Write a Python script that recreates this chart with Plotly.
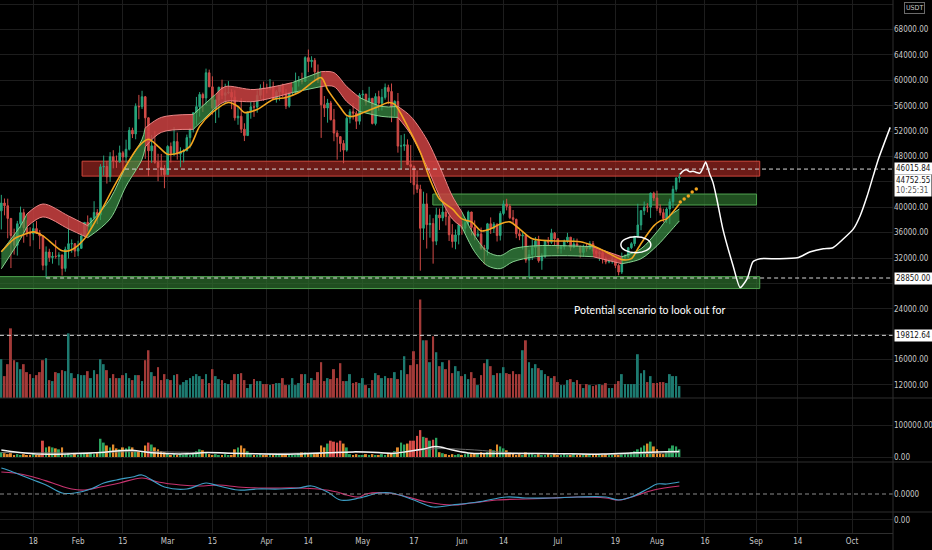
"""
plot.py
=======
BTC/USDT daily (Jan-Aug 2021) with trend ribbon, fast MA, supply/demand
zones, volume, two lower panes and a hand-drawn projection for Aug-Oct.
"""

import pandas as pd
import plotly.graph_objects as go


# ── Candles: daily 2021-01-08 → 2021-08-08 ─────────────────────
FIRST_DAY = "2021-01-08"
FIRST_OPEN = 39432

closes = [
    40670, 40240, 38240, 35545, 34011, 37390, 39150, 36770, 36006, 35828, 36631, 35891,
    35468, 30850, 32945, 32078, 32259, 32254, 32467, 30366, 33364, 34252, 34262, 33092,
    33526, 35466, 37618, 36936, 38290, 39186, 38795, 46374, 46420, 44807, 47969, 47287,
    47153, 48577, 47911, 49133, 52119, 51552, 55906, 55841, 57408, 54088, 48891, 49676,
    47073, 46277, 46106, 45135,
    49587, 48440, 50349, 48374, 48751, 48882, 50971, 52375, 54884, 55851, 57773, 57221,
    61188, 58968, 55605, 56900, 58912, 57648, 58030, 58102, 57351, 54083, 54340, 52303,
    51293, 55025, 55817, 55777, 57635, 58746, 58740,
    58720, 58950, 57051, 58202, 59123, 58020, 55947, 58048, 58102, 59774, 59964, 59835,
    63576, 62959, 63159, 61334, 60006, 56150, 55633, 56425, 53787, 51690, 51125, 50047,
    49004, 54021, 55034, 54824, 53555, 57694,
    57800, 56578, 57169, 53200, 57436, 56393, 57314, 58862, 58240, 55816, 56670, 49631,
    49670, 49841, 46708, 46426, 43538, 42849, 36690, 40526, 37252, 37449, 34655, 38796,
    38324, 39241, 38529, 35663, 34605, 35641, 37254,
    36693, 37568, 39246, 36829, 35513, 35796, 33552, 33380, 37389, 36675, 37331, 35546,
    39020, 40516, 40144, 38349, 38092, 35820, 35483, 35600, 31676, 32505, 33676, 34663,
    31584, 32283, 34700, 34494, 35911, 35045,
    33504, 33787, 34668, 35287, 33691, 34220, 33862, 32875, 33815, 33502, 34258, 33086,
    32729, 32820, 31880, 31383, 31520, 31778, 30839, 29790, 32144, 32287, 33634, 34258,
    35425, 37208, 39457, 40019, 40016, 42206, 41461,
    39845, 39147, 38207, 39723, 40862, 42836, 44614, 44752.55,
]

highs = [
    41950, 41380, 41350, 38264, 36628, 37850, 40100, 39747, 37950, 36852, 37469, 37850,
    36415, 35600, 33826, 33456, 32944, 34802, 32921, 32557, 33783, 38531, 34933, 34342,
    34717, 35984, 37662, 38708, 38310, 40955, 39700, 46794, 48142, 47310, 48678, 48985,
    48150, 49707, 48876, 50641, 52618, 52530, 56368, 57700, 58352, 57533, 54183, 51374,
    52041, 48424, 48394, 46640,
    49790, 50200, 52640, 51773, 49448, 49200, 51450, 52402, 54895, 57387, 58150, 58058,
    61844, 61683, 60633, 56938, 58978, 60100, 59468, 59880, 58594, 58430, 55830, 57200,
    53236, 55073, 56700, 56568, 58400, 59368, 59800,
    59461, 60200, 59791, 58500, 59250, 59474, 58650, 58153, 58894, 61220, 60670, 61200,
    63800, 64854, 63800, 63520, 62500, 60499, 57526, 57076, 56757, 55500, 52130, 51166,
    50567, 54356, 55460, 56428, 55200, 58000,
    58458, 57911, 58981, 57200, 57963, 58360, 58650, 59500, 59300, 59500, 56862, 58000,
    51367, 51570, 50700, 49800, 46595, 45800, 43546, 42451, 42200, 38829, 38270, 39920,
    39791, 40841, 40411, 38877, 37338, 36488, 37499,
    37894, 38225, 39476, 39289, 37925, 36480, 36800, 34068, 37534, 38400, 37680, 37448,
    39380, 41064, 41330, 40527, 39560, 38202, 36457, 36137, 35750, 33298, 34881, 35298,
    35500, 32730, 34749, 35297, 36600, 36100,
    35057, 33977, 34909, 35967, 35293, 35118, 35059, 33929, 34100, 34262, 34666, 34679,
    33340, 33114, 33185, 32249, 31935, 32435, 31899, 31063, 32858, 32591, 33650, 34500,
    35398, 40550, 39542, 40900, 40640, 42316, 42448,
    42599, 40459, 39780, 39969, 41350, 43392, 44700, 45310,
]

lows = [
    36500, 38720, 35111, 30420, 32531, 32380, 36701, 34408, 35357, 33850, 34800, 35844,
    33400, 30071, 28850, 31390, 31106, 31910, 30837, 29241, 29842, 31915, 32825, 32171,
    32296, 33418, 35362, 36161, 36570, 38215, 37351, 37988, 45000, 43727, 43994, 46125,
    46202, 47014, 45000, 47000, 48947, 50901, 50710, 53863, 55477, 47622, 44892, 47004,
    46855, 44106, 45000, 43000,
    45115, 47047, 48100, 47500, 46300, 47070, 48882, 49274, 51789, 53005, 54272, 55013,
    56078, 58966, 54600, 53271, 54123, 57023, 56271, 57820, 55450, 53650, 53000, 51700,
    50427, 51283, 53950, 54242, 54900, 57012, 56769,
    57935, 58428, 56962, 56478, 56800, 57333, 55473, 55700, 57654, 57871, 59018, 59370,
    59791, 61301, 62020, 60000, 59580, 50931, 54221, 53329, 53695, 50400, 47500, 48733,
    46930, 48753, 53222, 53813, 52330, 53013,
    57000, 56035, 56435, 53046, 52900, 55200, 55241, 56957, 56235, 53400, 54370, 48600,
    46000, 48893, 46650, 43825, 42001, 42250, 30000, 34850, 33488, 35200, 31111, 34031,
    36419, 37800, 37134, 34684, 33632, 33379, 34153,
    35666, 35920, 37170, 35567, 34800, 35258, 33300, 31000, 32396, 35800, 35936, 34600,
    34757, 38730, 39506, 38116, 37365, 35129, 34803, 33336, 31251, 28805, 31683, 32286,
    31275, 30151, 32000, 33862, 34225, 34017,
    32711, 32699, 33326, 34357, 33125, 33532, 33777, 32077, 32261, 33004, 33306, 32658,
    32202, 31550, 31133, 31020, 31164, 31108, 30407, 29278, 29482, 31708, 31924, 33401,
    33851, 35205, 36383, 38772, 39200, 38313, 41000,
    39422, 38690, 37642, 37508, 37332, 39853, 42446, 43900,
]

# volume, thousand BTC
volume_k = [
    39, 22, 34, 70, 38, 36, 29, 34, 26, 24, 20, 23, 26, 38, 40, 18, 17, 26, 25, 28,
    27, 65, 25, 20, 24, 23, 23, 27, 20, 28, 24, 39, 34, 28, 20, 24, 20, 20, 23, 25,
    20, 18, 23, 23, 17, 38, 48, 26, 22, 31, 18, 24, 19, 18, 23, 24, 13, 16, 18, 20,
    22, 24, 22, 19, 24, 15, 29, 22, 19, 18, 15, 14, 18, 24, 24, 25, 18, 10, 14, 19,
    17, 17, 14, 14, 13, 14, 15, 15, 20, 13, 13, 20, 13, 15, 24, 24, 15, 20, 18, 26,
    36, 17, 20, 19, 29, 20, 35, 17,
    17, 24, 15, 16, 15, 20, 13, 10, 18, 25, 23, 20, 22, 20, 20, 26, 19, 28, 42, 24,
    33, 47, 34, 99, 58, 58, 36, 62, 46, 32, 36, 29, 38, 25, 32, 27, 22, 24, 19, 26,
    20, 13, 23, 35, 39, 32, 23, 25, 25, 31, 25, 24, 27, 24, 24, 48, 58, 36, 30, 34,
    30, 28, 24, 22, 20, 22, 16, 13, 13, 18, 19, 16, 18, 14, 10, 14, 13, 12,
    13, 14, 13, 15, 10, 10, 14, 17, 24, 14, 14, 14, 14, 44, 25, 28, 16, 22, 15, 15,
    16, 16, 15, 24, 22, 22, 12,
]

# second pane histogram (thousands)
flow_k = [
    15, 12, 9, 12, 6, 9, 6, 9, 6, 6, 9, 6, 6,
    51, 30, 33, 30, 27, 24, 30, 9, 12, 6, 9, 6, 9, 12, 9, 12, 9, 12,
    57, 45, 36, 30, 39, 27, 24, 30, 27, 33, 30, 21, 18, 15,
    36, 45, 39, 30, 24, 18, 15, 12, 6, 9, 6, 9, 6, 9, 6,
    12, 18, 24, 21, 15, 9, 6, 9, 6, 6, 9, 6, 6, 24, 30, 36, 27, 18,
    9, 6, 6, 9, 6, 6, 9, 6, 6, 9, 6, 6, 9, 6, 6, 12, 15, 15, 12, 9, 9, 12,
    36, 30, 42, 51, 48, 45, 51, 42, 30,
    9, 6, 9, 6, 6, 9, 6, 9, 6, 6, 9, 6, 9, 12, 18, 30,
    45, 39, 42, 51, 51, 66, 84, 63, 60, 51, 54, 60,
    15, 12, 9, 6, 9, 6, 9, 6, 9, 12, 9, 12, 9, 15, 12,
    15, 24, 21, 39, 33, 27, 21, 15, 12, 6, 9, 6, 15, 12, 9,
    6, 9, 6, 6, 9, 6, 9, 6, 6, 9, 6, 6, 9, 6, 6, 9, 6, 6, 9, 6, 6, 6, 9, 6, 6, 9, 6, 9, 9,
    12, 15, 18, 24, 30, 36, 42, 48, 33, 24, 12, 9, 15, 27, 36, 33, 24,
]
flow_ma_dates = ["2021-01-08", "2021-01-18", "2021-01-30", "2021-02-08", "2021-02-13",
                 "2021-02-18", "2021-02-24", "2021-03-07", "2021-03-13", "2021-03-20",
                 "2021-03-29", "2021-04-10", "2021-04-20", "2021-04-28", "2021-05-06",
                 "2021-05-10", "2021-05-15", "2021-05-20", "2021-05-24", "2021-05-29",
                 "2021-06-04", "2021-06-13", "2021-06-25", "2021-07-05", "2021-07-15",
                 "2021-07-25", "2021-08-01", "2021-08-08"]
flow_ma_k = [22, 10, 10, 14, 19, 21, 13, 10, 14, 12, 10, 9, 13, 16, 14, 11, 17, 25,
             33, 22, 12, 11, 11, 10, 9, 13, 16, 17]
flow_slow_dates = ["2021-01-08", "2021-02-01", "2021-02-20", "2021-03-05", "2021-04-01",
                   "2021-04-28", "2021-05-10", "2021-05-24", "2021-06-05", "2021-06-15",
                   "2021-07-01", "2021-07-20", "2021-08-08"]
flow_slow_k = [14, 13, 17, 15, 11, 15, 13, 26, 22, 14, 11, 9, 14]

# ── Trend ribbon (upper / lower edge, +1 green, -1 red) ────────
ribbon_dates = ["2021-01-08", "2021-01-14", "2021-01-16", "2021-01-21", "2021-01-29",
                "2021-02-04", "2021-02-11", "2021-02-16", "2021-02-21", "2021-02-22",
                "2021-02-27", "2021-03-09", "2021-03-16", "2021-03-19", "2021-03-28",
                "2021-04-09", "2021-04-18", "2021-04-22", "2021-04-26", "2021-04-30",
                "2021-05-07", "2021-05-12", "2021-05-16", "2021-05-21", "2021-05-25",
                "2021-05-29", "2021-06-01", "2021-06-05", "2021-06-09", "2021-06-13",
                "2021-06-17", "2021-06-24", "2021-07-04", "2021-07-12", "2021-07-21",
                "2021-07-27", "2021-08-01", "2021-08-05", "2021-08-08"]
ribbon_top = [33000, 37063, 38945, 40513, 38631, 37100, 41297, 46471, 50705, 52500,
              54155, 54625, 57800, 59016, 58545, 59643, 61367, 61210, 59016, 57291,
              55879, 55879, 54311, 50705, 46471, 41767, 39259, 35495, 32986, 32359,
              33456, 33927, 33927, 33770, 32200, 33456, 36122, 38631, 39729]
ribbon_bot = [30300, 35024, 36906, 38474, 36592, 35200, 38161, 43335, 47569, 49500,
              51803, 52273, 55700, 56663, 56663, 58075, 59016, 59016, 56663, 55095,
              54311, 54155, 51489, 46471, 41767, 38161, 36906, 32986, 30790, 30320,
              31417, 32202, 32359, 32202, 31100, 31888, 33927, 36122, 37847]
ribbon_trend = [1, 1, -1, -1, -1, 1, 1, 1, 1, -1,
                -1, 1, -1, -1, -1, 1, -1, -1, -1, 1,
                1, -1, -1, -1, -1, -1, 1, 1, 1, 1,
                1, 1, 1, -1, 1, 1, 1, 1, 1]

# ── Fast moving average (orange) ───────────────────────────────
ma_dates = ["2021-01-08", "2021-01-12", "2021-01-14", "2021-01-18", "2021-01-21",
            "2021-01-27", "2021-01-30", "2021-02-03", "2021-02-08", "2021-02-13",
            "2021-02-20", "2021-02-23", "2021-02-26", "2021-03-01", "2021-03-05",
            "2021-03-08", "2021-03-11", "2021-03-15", "2021-03-20", "2021-03-23",
            "2021-03-25", "2021-03-29", "2021-04-03", "2021-04-07", "2021-04-11",
            "2021-04-18", "2021-04-20", "2021-04-24", "2021-04-26", "2021-04-28",
            "2021-05-02", "2021-05-06", "2021-05-09", "2021-05-11", "2021-05-15",
            "2021-05-19", "2021-05-22", "2021-05-25", "2021-05-29", "2021-06-01",
            "2021-06-04", "2021-06-07", "2021-06-10", "2021-06-13", "2021-06-16",
            "2021-06-19", "2021-06-23", "2021-06-29", "2021-07-08", "2021-07-12",
            "2021-07-16", "2021-07-21", "2021-07-24", "2021-07-26", "2021-07-28",
            "2021-07-31", "2021-08-02", "2021-08-04", "2021-08-06", "2021-08-08"]
ma_values = [32987, 35024, 35495, 36122, 35495, 33143, 33300, 35024, 39259, 43963,
             49608, 50705, 49608, 48353, 48667, 49608, 52744, 54939, 56507, 55879,
             54939, 55409, 56977, 57291, 58075, 60427, 58545, 55722, 54468, 54311,
             55095, 55879, 56507, 56193, 52744, 48667, 44433, 41297, 39729, 38161,
             37690, 36279, 36592, 37376, 37690, 36592, 35024, 34710, 34553, 33927,
             32986, 31750, 31900, 33456, 35024, 37063, 37847, 38161, 39259, 40513]
ma_proj_dates = ["2021-08-08 07:00", "2021-08-09 12:00", "2021-08-10 19:00",
                 "2021-08-12 00:00", "2021-08-13 07:00"]
ma_proj_values = [40826, 41297, 41767, 42395, 42865]

# ── Hand-drawn scenario ────────────────────────────────────────
scenario_dates = ["2021-08-08 05:00", "2021-08-09 05:00", "2021-08-10 05:00",
                  "2021-08-11 07:00", "2021-08-12 07:00", "2021-08-13 07:00",
                  "2021-08-14 10:00", "2021-08-15 05:00", "2021-08-16 05:00",
                  "2021-08-16 17:00", "2021-08-17 12:00", "2021-08-18 12:00",
                  "2021-08-19 17:00", "2021-08-21 14:00", "2021-08-24 19:00",
                  "2021-08-27 00:00", "2021-08-29 05:00", "2021-08-31 00:00",
                  "2021-09-02 07:00", "2021-09-07 14:00", "2021-09-13 22:00",
                  "2021-09-18 00:00", "2021-09-22 00:00", "2021-09-25 00:00",
                  "2021-09-28 07:00", "2021-10-01 10:00", "2021-10-03 12:00",
                  "2021-10-05 17:00", "2021-10-07 14:00", "2021-10-09 05:00",
                  "2021-10-12 22:00"]
scenario_values = [45217, 45735, 45891, 45578, 45688, 45484, 45374, 46001, 47146,
                   46518, 45217, 43916, 41297, 36592, 30790, 27341, 28752, 31417,
                   31888, 31888, 32045, 32986, 33456, 33613, 35024, 36592, 38631,
                   41767, 44903, 47569, 52587]

# ── Oscillator pane (two lines) ────────────────────────────────
osc_fast_dates = ["2021-01-08", "2021-01-10", "2021-01-14", "2021-01-18", "2021-01-22",
                  "2021-01-27", "2021-01-31", "2021-02-05", "2021-02-09", "2021-02-13",
                  "2021-02-18", "2021-02-21", "2021-02-25", "2021-02-28", "2021-03-07",
                  "2021-03-13", "2021-03-17", "2021-03-23", "2021-03-29", "2021-04-05",
                  "2021-04-11", "2021-04-15", "2021-04-20", "2021-04-24", "2021-04-30",
                  "2021-05-06", "2021-05-10", "2021-05-17", "2021-05-23", "2021-05-29",
                  "2021-06-06", "2021-06-15", "2021-06-21", "2021-06-29", "2021-07-07",
                  "2021-07-16", "2021-07-20", "2021-07-24", "2021-07-29", "2021-08-01",
                  "2021-08-04", "2021-08-08"]
osc_fast = [2.6, 2.4, 1.9, 1.4, 0.9, 0.1, 0.1, 0.5, 1.1, 1.4, 1.7, 1.9, 1.2, 0.7,
            0.5, 1.1, 0.8, 0.4, 0.5, 0.5, 0.6, 0.8, 0.2, -0.6, -0.4, 0.1, 0.1, -0.6,
            -1.3, -1.1, -0.8, -0.3, -0.4, -0.4, -0.3, -0.3, -0.6, -0.3, 0.5, 1.0, 1.0,
            1.2]
osc_slow_dates = ["2021-01-08", "2021-01-12", "2021-01-18", "2021-01-24", "2021-01-30",
                  "2021-02-03", "2021-02-08", "2021-02-14", "2021-02-21", "2021-02-26",
                  "2021-03-05", "2021-03-11", "2021-03-17", "2021-03-23", "2021-03-31",
                  "2021-04-11", "2021-04-17", "2021-04-23", "2021-04-26", "2021-04-30",
                  "2021-05-02", "2021-05-09", "2021-05-15", "2021-05-21", "2021-05-29",
                  "2021-06-04", "2021-06-12", "2021-06-21", "2021-06-29", "2021-07-07",
                  "2021-07-16", "2021-07-20", "2021-07-24", "2021-07-31", "2021-08-08"]
osc_slow = [2.2, 2.1, 1.7, 1.1, 0.5, 0.4, 0.7, 1.1, 1.6, 1.2, 0.9, 0.8, 0.9, 0.7,
            0.6, 0.6, 0.5, 0.2, -0.1, -0.3, 0.0, 0.1, -0.3, -0.8, -1.1, -0.9, -0.6,
            -0.5, -0.4, -0.3, -0.4, -0.6, -0.3, 0.4, 0.8]

# ── Levels and zones ───────────────────────────────────────────
LEVEL_TOP = 46015.84
LEVEL_LOW = 28850.00
LEVEL_VOL = 19812.64
LAST_PRICE = 44752.55
COUNTDOWN = "10:25:31"
level_prices = [LEVEL_TOP, LEVEL_LOW, LEVEL_VOL]
level_starts = ["2021-02-15 16:00", "2021-01-22", "2021-01-01"]

zone_starts = ["2021-02-02 06:00", "2021-05-22 22:00", "2021-01-01"]
zone_ends = ["2021-09-02 03:00", "2021-09-01 03:00", "2021-09-02 03:00"]
zone_tops = [47255, 42081, 29068]
zone_bottoms = [44904, 40355, 27187]
zone_kinds = ["supply", "demand", "demand"]

price_ticks = list(range(12000, 72001, 4000))
# labels hidden behind the price tags on the axis
covered_ticks = [20000, 28000, 44000]
date_ticks = ["2021-01-18", "2021-02-01", "2021-02-15", "2021-03-01", "2021-03-15",
              "2021-04-01", "2021-04-14", "2021-05-01", "2021-05-17", "2021-06-01",
              "2021-06-14", "2021-07-01", "2021-07-19", "2021-08-01", "2021-08-16",
              "2021-09-01", "2021-09-14", "2021-10-01"]
date_labels = ["18", "Feb", "15", "Mar", "15", "Apr", "14", "May", "17", "Jun",
               "14", "Jul", "19", "Aug", "16", "Sep", "14", "Oct"]

NOTE = "Potential scenario to look out for"


# ── Style ──────────────────────────────────────────────────────
BG = "#000000"
GRID = "#1d1d1d"
BORDER = "#2e2e2e"
AXIS_TXT = "#c8c8c8"
FONT = "Liberation Sans Narrow, DejaVu Sans Condensed, Arial Narrow, sans-serif"

UP = "#27a47c"
DOWN = "#d14b47"
VOL_UP = "#1d7a70"
VOL_DOWN = "#a23a38"
FLOW_UP = "#2aa35f"
FLOW_DOWN = "#e38a2c"
FLOW_BIG = "#d64b47"
MA_COLOR = "#f2a51f"
OSC_FAST = "#3d9fc6"
OSC_SLOW = "#c8336f"

RIBBON = {
    1: dict(fill="rgba(60,150,72,0.68)", edge="#86d08f"),
    -1: dict(fill="rgba(204,66,66,0.85)", edge="#ec8585"),
}
ZONE = {
    "supply": dict(fill="rgba(150,38,32,0.72)", edge="#d0473c"),
    "demand": dict(fill="rgba(44,110,44,0.72)", edge="#4fa24f"),
}

# pixel layout of the panes (from top of the plot area)
PLOT_H = 533
PANES = {"price": (0, 398), "flow": (398, 462), "osc": (462, 512), "empty": (512, 533)}
PRICE_RANGE = [9941, 72657]
X_RANGE = ["2021-01-07 14:00", "2021-10-13 19:00"]
DAY_MS = 86400000

# the page has a default 8px body margin; drop it so the chart fills the window
PAGE_FIX = "document.body.style.margin='0';document.body.style.background='#000';"


def _domain(pane):
    top, bottom = PANES[pane]
    return [(PLOT_H - bottom) / PLOT_H, (PLOT_H - top) / PLOT_H]


def _ribbon_traces():
    """Split the ribbon into single-colour runs, each a filled band."""
    traces = []
    start = 0
    n = len(ribbon_dates)
    for i in range(1, n):
        if ribbon_trend[i] != ribbon_trend[start] or i == n - 1:
            sty = RIBBON[ribbon_trend[start]]
            idx = range(start, i + 1)
            xs = [ribbon_dates[j] for j in idx]
            traces.append(go.Scatter(
                x=xs, y=[ribbon_bot[j] for j in idx], mode="lines",
                line=dict(color=sty["edge"], width=1, shape="spline", smoothing=0.9),
                hoverinfo="skip", showlegend=False,
            ))
            traces.append(go.Scatter(
                x=xs, y=[ribbon_top[j] for j in idx], mode="lines",
                line=dict(color=sty["edge"], width=1, shape="spline", smoothing=0.9),
                fill="tonexty", fillcolor=sty["fill"],
                hoverinfo="skip", showlegend=False,
            ))
            start = i
    return traces


def _tag(y, text, yshift=0, yanchor="middle"):
    return dict(
        xref="paper", x=1, xanchor="left", xshift=1,
        yref="y", y=y, yshift=yshift, yanchor=yanchor, text=text, showarrow=False,
        bgcolor="#ffffff", borderpad=1, align="left",
        font=dict(color="#151515", size=8, family=FONT),
    )


def build_figure():
    dates = pd.date_range(FIRST_DAY, periods=len(closes), freq="D")
    opens = [FIRST_OPEN] + closes[:-1]
    rising = [c >= o for o, c in zip(opens, closes)]

    traces = []

    # ── 1. Ribbon ───────────────────────────────────────────
    traces += _ribbon_traces()

    # ── 2. Candles ──────────────────────────────────────────
    traces.append(go.Candlestick(
        x=dates, open=opens, high=highs, low=lows, close=closes,
        increasing=dict(line=dict(color=UP, width=1), fillcolor=UP),
        decreasing=dict(line=dict(color=DOWN, width=1), fillcolor=DOWN),
        whiskerwidth=0, hoverinfo="skip", showlegend=False,
    ))

    # ── 3. Fast MA + projected dots ─────────────────────────
    traces.append(go.Scatter(
        x=ma_dates, y=ma_values, mode="lines",
        line=dict(color=MA_COLOR, width=1.6, shape="spline", smoothing=0.8),
        hoverinfo="skip", showlegend=False,
    ))
    traces.append(go.Scatter(
        x=ma_proj_dates, y=ma_proj_values, mode="markers",
        marker=dict(color=MA_COLOR, size=3.5),
        hoverinfo="skip", showlegend=False,
    ))

    # ── 4. Scenario path ────────────────────────────────────
    traces.append(go.Scatter(
        x=scenario_dates, y=scenario_values, mode="lines",
        line=dict(color="#ffffff", width=1.5, shape="spline", smoothing=0.6),
        hoverinfo="skip", showlegend=False,
    ))

    # ── 5. Volume (overlay in the price pane) ───────────────
    traces.append(go.Bar(
        x=dates, y=volume_k, yaxis="y5", width=0.62 * DAY_MS,
        marker=dict(color=[VOL_UP if r else VOL_DOWN for r in rising], line_width=0),
        hoverinfo="skip", showlegend=False,
    ))

    # ── 6. Flow pane ────────────────────────────────────────
    flow_colors = [
        FLOW_UP if r else (FLOW_BIG if v >= 45 else FLOW_DOWN)
        for r, v in zip(rising, flow_k)
    ]
    traces.append(go.Bar(
        x=dates, y=[v * 1000 for v in flow_k], xaxis="x2", yaxis="y2",
        width=0.62 * DAY_MS, marker=dict(color=flow_colors, line_width=0),
        hoverinfo="skip", showlegend=False,
    ))
    traces.append(go.Scatter(
        x=flow_slow_dates, y=[v * 1000 for v in flow_slow_k], xaxis="x2", yaxis="y2",
        mode="lines", line=dict(color="#6d6d6d", width=1, shape="spline"),
        hoverinfo="skip", showlegend=False,
    ))
    traces.append(go.Scatter(
        x=flow_ma_dates, y=[v * 1000 for v in flow_ma_k], xaxis="x2", yaxis="y2",
        mode="lines", line=dict(color="#f2f2f2", width=1.5, shape="spline"),
        hoverinfo="skip", showlegend=False,
    ))

    # ── 7. Oscillator pane ──────────────────────────────────
    traces.append(go.Scatter(
        x=osc_slow_dates, y=osc_slow, xaxis="x3", yaxis="y3", mode="lines",
        line=dict(color=OSC_SLOW, width=1.2, shape="spline"),
        hoverinfo="skip", showlegend=False,
    ))
    traces.append(go.Scatter(
        x=osc_fast_dates, y=osc_fast, xaxis="x3", yaxis="y3", mode="lines",
        line=dict(color=OSC_FAST, width=1.2, shape="spline"),
        hoverinfo="skip", showlegend=False,
    ))

    # ── 8. Empty bottom pane (keeps its axis alive) ─────────
    traces.append(go.Scatter(
        x=[dates[0]], y=[None], xaxis="x4", yaxis="y4", mode="lines",
        hoverinfo="skip", showlegend=False,
    ))

    # ── 9. Shapes: zones, levels, ellipse, pane borders ─────
    shapes = []
    for x0, x1, top, bot, kind in zip(zone_starts, zone_ends, zone_tops,
                                      zone_bottoms, zone_kinds):
        sty = ZONE[kind]
        shapes.append(dict(
            type="rect", xref="x", yref="y", x0=x0, x1=x1, y0=bot, y1=top,
            fillcolor=sty["fill"], line=dict(color=sty["edge"], width=1),
            layer="between",
        ))
    for price, start in zip(level_prices, level_starts):
        shapes.append(dict(
            type="line", xref="x", yref="y", x0=start, x1="2021-10-20",
            y0=price, y1=price, line=dict(color="#d8d8d8", width=1, dash="4px,3px"),
        ))
    shapes.append(dict(
        type="circle", xref="x", yref="y",
        x0="2021-07-20 17:00", x1="2021-07-30 02:00", y0=32829, y1=35338,
        line=dict(color="#ffffff", width=1.5),
    ))
    shapes.append(dict(
        type="line", xref="x3", yref="y3", x0=X_RANGE[0], x1="2021-10-20", y0=0, y1=0,
        line=dict(color="#8a8a8a", width=1, dash="4px,3px"),
    ))
    for pane in ("flow", "osc", "empty"):
        y = _domain(pane)[1]
        shapes.append(dict(type="line", xref="paper", yref="paper", x0=0, x1=1.05,
                           y0=y, y1=y, line=dict(color=BORDER, width=1)))
    shapes.append(dict(type="line", xref="paper", yref="paper", x0=1, x1=1,
                       y0=-0.04, y1=1, line=dict(color=BORDER, width=1)))

    # ── 10. Annotations: price tags, note ───────────────────
    annotations = [
        _tag(LEVEL_TOP, "46015.84", yshift=1),
        _tag(LEVEL_TOP, f"44752.55<br><span style='color:#555'>{COUNTDOWN}</span>",
             yshift=-5, yanchor="top"),
        _tag(LEVEL_LOW, "28850.00"),
        _tag(LEVEL_VOL, "19812.64"),
        dict(xref="paper", x=1, xanchor="left", xshift=11, yref="paper", y=1,
             yanchor="top", yshift=-2, text="USDT", showarrow=False,
             bgcolor=BG, bordercolor="#6a6a6a", borderwidth=1, borderpad=1,
             font=dict(color=AXIS_TXT, size=7, family=FONT)),
        dict(xref="x", x="2021-07-05 10:00", xanchor="left", yref="y", y=23735,
             text=NOTE, showarrow=False,
             font=dict(color="#ffffff", size=10.5, family="Lato, sans-serif")),
    ]

    # ── 11. Layout ──────────────────────────────────────────
    tick_font = dict(color=AXIS_TXT, size=8, family=FONT)
    xax = dict(type="date", range=X_RANGE, tickvals=date_ticks, ticktext=date_labels,
               showgrid=True, gridcolor=GRID, zeroline=False, showline=False,
               ticks="", tickfont=tick_font, fixedrange=True,
               rangeslider=dict(visible=False))
    yax = dict(side="right", showgrid=True, gridcolor=GRID,
               zeroline=False, showline=False, ticks="", tickfont=tick_font,
               fixedrange=True, automargin=False)
    price_labels = ["" if t in covered_ticks else f"{t:.2f}" for t in price_ticks]

    layout = go.Layout(
        width=932, height=550,
        paper_bgcolor=BG, plot_bgcolor=BG,
        margin=dict(l=0, r=39, t=0, b=17),
        showlegend=False, barmode="overlay",
        xaxis=dict(xax, anchor="y", showticklabels=False),
        xaxis2=dict(xax, anchor="y2", matches="x", showticklabels=False),
        xaxis3=dict(xax, anchor="y3", matches="x", showticklabels=False),
        xaxis4=dict(xax, anchor="y4", matches="x", showline=True, linecolor=BORDER),
        yaxis=dict(yax, anchor="x", domain=_domain("price"), range=PRICE_RANGE,
                   tickvals=price_ticks, ticktext=price_labels),
        yaxis2=dict(yax, anchor="x2", domain=_domain("flow"), range=[-15625, 184375],
                    tickvals=[0, 100000], tickformat=".2f"),
        yaxis3=dict(yax, anchor="x3", domain=_domain("osc"), range=[-1.8, 3.2],
                    tickvals=[0], tickformat=".4f", showgrid=False),
        yaxis4=dict(yax, anchor="x4", domain=_domain("empty"), range=[-1.24, 0.76],
                    tickvals=[0], tickformat=".2f"),
        yaxis5=dict(overlaying="y", anchor="x", side="right", range=[0, 400],
                    visible=False, showgrid=False, fixedrange=True),
        shapes=shapes,
        annotations=annotations,
    )
    return go.Figure(data=traces, layout=layout)


if __name__ == "__main__":
    fig = build_figure()
    fig.write_html("out.html", post_script=PAGE_FIX,
                   config={"displayModeBar": False})
